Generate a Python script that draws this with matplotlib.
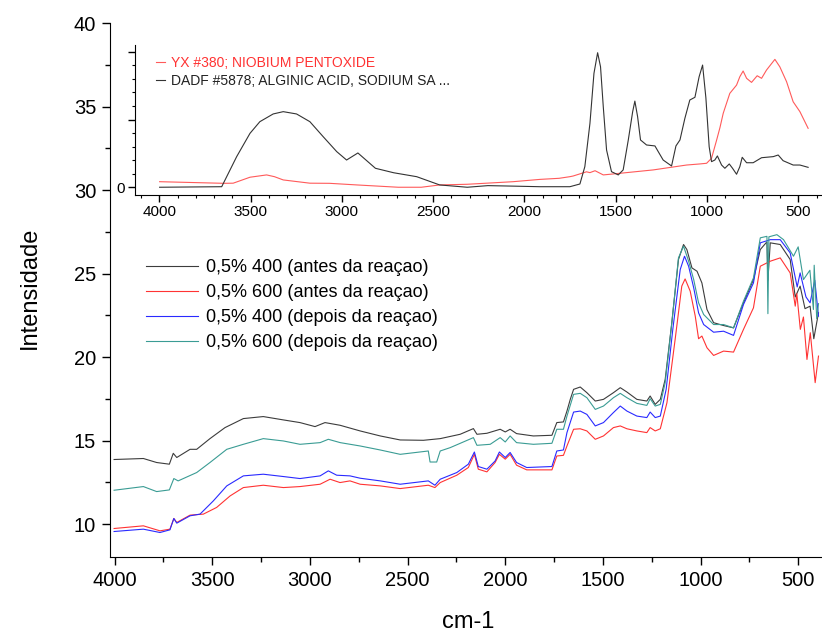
import matplotlib
matplotlib.use('Agg')
import matplotlib.pyplot as plt
from matplotlib.ticker import MultipleLocator, FixedLocator, FuncFormatter

plt.rcParams['font.family'] = ['Liberation Sans', 'DejaVu Sans']

# main spectra (wavenumber cm-1, intensity)
wn_400a = [4003, 3853, 3785, 3720, 3700, 3682, 3614, 3580, 3512, 3435, 3341, 3239, 3136, 3051, 2974,
           2923, 2846, 2743, 2640, 2538, 2419, 2333, 2231, 2163, 2145, 2094, 2026, 2000, 1975, 1942,
           1856, 1761, 1736, 1702, 1684, 1667, 1650, 1616, 1582, 1539, 1497, 1446, 1411, 1377, 1326,
           1275, 1258, 1232, 1206, 1181, 1147, 1113, 1087, 1070, 1044, 1018, 993, 967, 933, 882,
           831, 780, 729, 694, 660, 655, 643, 592, 541, 515, 490, 465, 439, 420, 396]
int_400a = [13.87, 13.93, 13.69, 13.59, 14.24, 13.99, 14.48, 14.48, 15.12, 15.78, 16.32, 16.44, 16.24, 16.08, 15.84,
            16.08, 15.92, 15.58, 15.28, 15.04, 15.02, 15.12, 15.38, 15.72, 15.38, 15.44, 15.68, 15.52, 15.68, 15.42,
            15.28, 15.32, 16.08, 16.12, 16.77, 17.47, 18.07, 18.21, 17.87, 17.37, 17.47, 17.87, 18.17, 17.91, 17.47,
            17.37, 17.67, 17.17, 17.47, 18.67, 22.06, 25.84, 26.74, 26.44, 25.34, 25.14, 24.44, 22.85, 22.06, 21.89,
            21.75, 23.25, 24.64, 26.44, 26.90, 24.60, 26.84, 26.74, 25.84, 23.60, 24.25, 22.90, 23.05, 21.10, 22.65]

wn_600a = [4003, 3853, 3768, 3717, 3697, 3682, 3614, 3546, 3478, 3409, 3341, 3239, 3136, 3051, 2948,
           2897, 2846, 2795, 2743, 2640, 2538, 2394, 2360, 2333, 2248, 2189, 2158, 2138, 2094, 2052,
           2030, 2000, 1975, 1942, 1890, 1761, 1736, 1702, 1684, 1650, 1616, 1582, 1539, 1497, 1446,
           1411, 1377, 1326, 1275, 1258, 1232, 1206, 1172, 1130, 1096, 1079, 1053, 1027, 1010, 993,
           967, 933, 882, 831, 780, 729, 694, 643, 592, 541, 515, 507, 489, 473, 455, 438, 413, 396]
int_600a = [9.74, 9.90, 9.60, 9.70, 10.34, 10.10, 10.54, 10.60, 11.00, 11.69, 12.19, 12.33, 12.19, 12.25, 12.39,
            12.69, 12.49, 12.59, 12.39, 12.29, 12.13, 12.33, 12.19, 12.49, 12.93, 13.39, 14.18, 13.29, 13.13, 13.69,
            14.18, 13.89, 14.18, 13.53, 13.25, 13.25, 14.08, 14.12, 14.68, 15.68, 15.71, 15.58, 15.08, 15.28, 15.78,
            15.88, 15.71, 15.58, 15.48, 15.78, 15.58, 15.71, 17.27, 21.06, 24.25, 24.68, 23.95, 22.45, 21.10, 21.26,
            20.56, 20.10, 20.36, 20.30, 21.66, 22.95, 25.44, 25.74, 25.94, 25.04, 23.05, 23.80, 21.66, 22.40, 19.86,
            21.46, 18.47, 20.06]

wn_400d = [4003, 3853, 3768, 3717, 3697, 3682, 3614, 3563, 3495, 3426, 3341, 3239, 3136, 3051, 2948,
           2906, 2863, 2795, 2743, 2640, 2538, 2394, 2360, 2333, 2248, 2189, 2158, 2138, 2094, 2052,
           2030, 2000, 1975, 1942, 1890, 1761, 1736, 1702, 1684, 1650, 1616, 1582, 1539, 1497, 1446,
           1411, 1377, 1326, 1275, 1258, 1232, 1206, 1176, 1142, 1104, 1082, 1061, 1035, 1010, 984,
           933, 882, 831, 780, 729, 694, 643, 592, 541, 505, 490, 460, 439, 415, 396]
int_400d = [9.56, 9.70, 9.50, 9.66, 10.34, 10.06, 10.50, 10.60, 11.39, 12.29, 12.89, 12.99, 12.85, 12.73, 12.89,
            13.19, 12.93, 12.89, 12.75, 12.59, 12.39, 12.59, 12.33, 12.69, 13.09, 13.59, 14.32, 13.45, 13.29, 13.78,
            14.32, 13.99, 14.29, 13.69, 13.39, 13.45, 14.38, 14.44, 15.48, 16.71, 16.77, 16.57, 15.88, 16.08, 16.68,
            17.07, 16.77, 16.47, 16.38, 16.71, 16.38, 16.47, 18.07, 21.66, 25.24, 26.04, 25.44, 24.15, 22.65, 21.95,
            21.49, 21.55, 21.30, 23.15, 24.44, 26.84, 27.03, 27.03, 26.24, 24.20, 25.04, 23.60, 23.25, 24.60, 22.45]

wn_600d = [4003, 3853, 3785, 3720, 3697, 3675, 3580, 3512, 3426, 3341, 3239, 3136, 3051, 2948, 2906,
           2845, 2743, 2640, 2538, 2394, 2385, 2351, 2333, 2282, 2163, 2145, 2077, 2026, 2000, 1975,
           1942, 1856, 1761, 1736, 1702, 1684, 1650, 1616, 1582, 1539, 1497, 1446, 1411, 1377, 1326,
           1275, 1258, 1232, 1206, 1181, 1147, 1113, 1087, 1061, 1035, 1010, 984, 933, 882, 831,
           780, 729, 694, 660, 655, 650, 609, 575, 524, 500, 473, 440, 422, 418, 405, 396]
int_600d = [12.03, 12.25, 11.95, 12.05, 12.73, 12.59, 13.09, 13.69, 14.48, 14.78, 15.12, 14.98, 14.78, 14.88, 15.08,
            14.88, 14.68, 14.44, 14.18, 14.38, 13.72, 13.72, 14.38, 14.58, 15.18, 14.72, 14.78, 15.18, 14.92, 15.28,
            14.88, 14.78, 14.84, 15.68, 15.68, 16.47, 17.77, 17.83, 17.57, 16.87, 17.07, 17.57, 17.83, 17.57, 17.23,
            17.11, 17.51, 17.07, 17.17, 18.47, 22.06, 25.94, 26.64, 25.74, 24.64, 23.25, 22.55, 21.95, 21.95, 21.75,
            23.35, 24.74, 27.14, 27.23, 22.60, 27.20, 27.33, 27.03, 26.04, 26.60, 24.64, 25.20, 22.85, 25.50, 22.30,
            23.20]

# reference library spectra in the inset (arbitrary units)
wn_nb = [3998, 3646, 3595, 3503, 3412, 3369, 3321, 3175, 3067, 2917, 2691, 2565, 2464, 2313, 2062,
         1915, 1810, 1751, 1733, 1660, 1641, 1613, 1568, 1477, 1294, 1112, 1039, 1002, 975, 947,
         929, 911, 875, 838, 820, 802, 783, 756, 725, 701, 674, 628, 601, 564, 528,
         491, 446]
ab_nb = [4.1, 2.9, 3.0, 7.4, 9.1, 7.8, 5.4, 3.0, 2.9, 1.7, 0.0, 0.0, 1.7, 2.2, 4.1,
         5.8, 6.6, 7.8, 8.3, 11.4, 10.8, 12.2, 9.1, 10.3, 12.8, 16.4, 17.2, 17.7, 21.4, 34.9,
         44.0, 54.6, 69.3, 75.4, 81.6, 85.8, 80.4, 77.4, 82.3, 80.4, 86.5, 94.4, 88.9, 77.9, 63.1,
         55.8, 43.5]

wn_alg = [3998, 3658, 3576, 3503, 3449, 3376, 3321, 3248, 3175, 3102, 3028, 2974, 2912, 2816, 2716,
          2590, 2464, 2313, 2200, 2050, 1915, 1751, 1696, 1669, 1641, 1619, 1599, 1583, 1568, 1550,
          1523, 1486, 1459, 1431, 1407, 1395, 1380, 1364, 1331, 1285, 1267, 1240, 1194, 1170, 1148,
          1121, 1094, 1066, 1043, 1024, 1006, 988, 975, 957, 943, 920, 902, 878, 860, 838,
          820, 807, 783, 747, 701, 637, 610, 583, 528, 491, 446]
ab_alg = [0.0, 0.4, 22.6, 39.8, 48.4, 54.1, 55.8, 54.1, 48.4, 37.3, 26.3, 20.1, 25.3, 14.0, 10.7,
          7.8, 1.7, 0.0, 1.2, 0.8, 0.4, 0.4, 2.4, 15.2, 47.2, 84.1, 99.3, 88.9, 59.4, 27.5,
          11.5, 9.1, 12.8, 34.9, 55.8, 63.6, 52.1, 34.9, 31.2, 30.5, 26.3, 20.1, 15.7, 30.5, 34.9,
          50.9, 64.4, 66.4, 81.6, 90.2, 66.0, 29.9, 18.9, 20.1, 23.1, 16.4, 14.0, 17.2, 14.0, 9.6,
          15.2, 22.1, 18.1, 18.1, 21.8, 22.6, 23.8, 19.6, 16.4, 16.4, 14.7]

fig = plt.figure(figsize=(8.22, 6.32), dpi=100)
ax = fig.add_axes([0.1338, 0.1191, 0.8662, 0.8445])

ax.plot(wn_400a, int_400a, color='#3c3c3c', lw=0.8, label='0,5% 400 (antes da reaçao)')
ax.plot(wn_600a, int_600a, color='#ff3333', lw=0.8, label='0,5% 600 (antes da reaçao)')
ax.plot(wn_400d, int_400d, color='#2a2aff', lw=0.8, label='0,5% 400 (depois da reaçao)')
ax.plot(wn_600d, int_600d, color='#3a9c94', lw=0.8, label='0,5% 600 (depois da reaçao)')

ax.set_xlim(4024, 378)
ax.set_ylim(8.05, 40)
for s in ['top', 'right']:
    ax.spines[s].set_visible(False)
ax.xaxis.set_major_locator(MultipleLocator(500))
ax.xaxis.set_minor_locator(MultipleLocator(250))
ax.yaxis.set_major_locator(MultipleLocator(5))
ax.yaxis.set_minor_locator(MultipleLocator(2.5))
ax.tick_params(which='major', direction='out', length=6, width=1, labelsize=14.5, pad=4)
ax.tick_params(which='minor', direction='out', length=3.5, width=1)
ax.set_ylabel('Intensidade', fontsize=17, va='center')
ax.yaxis.set_label_coords(-0.1124, 0.503)
ax.set_xlabel('cm-1', fontsize=17, va='center')
ax.xaxis.set_label_coords(0.503, -0.122)

ax.legend(loc='upper left', bbox_to_anchor=(0.05, 0.558), frameon=False, fontsize=13,
          handlelength=2.9, handletextpad=0.45, labelspacing=0.45, borderpad=0, borderaxespad=0)

# inset with the library spectra
ax_in = fig.add_axes([0.1642, 0.6915, 0.8358, 0.2373])
ax_in.patch.set_alpha(0)
ax_in.plot(wn_nb, ab_nb, color='#ff5a5a', lw=0.8, label='YX #380; NIOBIUM PENTOXIDE')
ax_in.plot(wn_alg, ab_alg, color='#333333', lw=0.8, label='DADF #5878; ALGINIC ACID, SODIUM SA ...')
ax_in.set_xlim(4133, 370)
ax_in.set_ylim(-5.7, 105)
for s in ['top', 'right']:
    ax_in.spines[s].set_visible(False)
ax_in.xaxis.set_major_locator(MultipleLocator(500))
ax_in.xaxis.set_minor_locator(MultipleLocator(100))
ax_in.yaxis.set_major_locator(FixedLocator([0, 50, 100]))
ax_in.yaxis.set_minor_locator(MultipleLocator(10))
ax_in.yaxis.set_major_formatter(FuncFormatter(lambda v, p: '0' if v == 0 else ''))
ax_in.tick_params(which='major', direction='out', length=5, width=1, labelsize=11, pad=2)
ax_in.tick_params(which='minor', direction='out', length=2.5, width=0.8)

leg = ax_in.legend(loc='upper left', bbox_to_anchor=(0.03, 0.925), frameon=False, fontsize=10,
                   handlelength=0.7, handletextpad=0.4, labelspacing=0.25, borderpad=0, borderaxespad=0)
for t, c in zip(leg.get_texts(), ['#ff3333', '#222222']):
    t.set_color(c)

fig.savefig('out.png', dpi=100)
